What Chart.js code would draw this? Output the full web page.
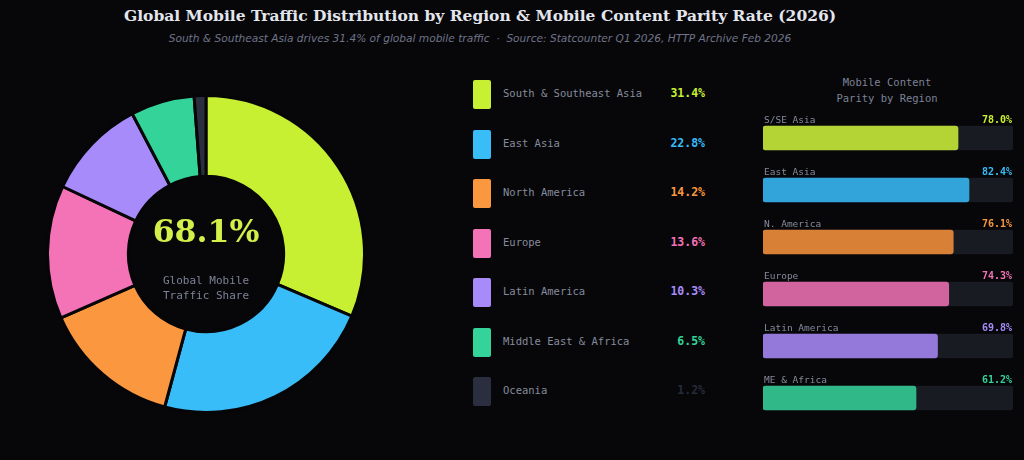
<!DOCTYPE html>
<html>
<head>
<meta charset="utf-8">
<script src="https://cdn.jsdelivr.net/npm/chart.js@4.4.1/dist/chart.umd.min.js"></script>
<style>
  html, body { margin: 0; padding: 0; background: #07070a; }
  #page { position: relative; width: 1024px; height: 460px; overflow: hidden; background: #07070a; }
  .title { position: absolute; left: 0; width: 960px; top: 6px; text-align: center;
    font: bold 15.5px "DejaVu Serif", serif; color: #e4e6ee; }
  .subtitle { position: absolute; left: 0; width: 960px; top: 32px; text-align: center;
    font: italic 10.6px "DejaVu Sans", sans-serif; color: #6f7488; }
  .box { position: absolute; }
  .center-big { position: absolute; left: 106px; width: 200px; top: 212px; text-align: center;
    font: bold 31.5px "DejaVu Serif", serif; color: #d2ef4a; }
  .center-small { position: absolute; left: 106px; width: 200px; top: 273px; text-align: center;
    font: 11px "DejaVu Sans Mono", monospace; color: #7d8296; line-height: 15px; }
  .legend-row { position: absolute; left: 473px; width: 232px; height: 29px; }
  .legend-row .sw { position: absolute; left: 0; top: 0; width: 18px; height: 29px; border-radius: 2px; }
  .legend-row .lb { position: absolute; left: 30px; top: 7px; font: 10.5px "DejaVu Sans Mono", monospace; color: #868b9c; }
  .legend-row .vl { position: absolute; right: 0; top: 6px; font: bold 11.5px "DejaVu Sans Mono", monospace; }
  .par-head { position: absolute; left: 787px; width: 200px; top: 74px; text-align: center;
    font: 10.5px "DejaVu Sans Mono", monospace; color: #7d8296; line-height: 16px; }
</style>
</head>
<body>
<div id="page">
  <div class="title">Global Mobile Traffic Distribution by Region &amp; Mobile Content Parity Rate (2026)</div>
  <div class="subtitle">South &amp; Southeast Asia drives 31.4% of global mobile traffic &nbsp;·&nbsp; Source: Statcounter Q1 2026, HTTP Archive Feb 2026</div>
  <div class="box" style="left:46px; top:94px; width:320px; height:320px;"><canvas id="donut"></canvas></div>
  <div class="center-big">68.1%</div>
  <div class="center-small">Global Mobile<br>Traffic Share</div>
  <div id="legend"></div>
  <div class="par-head">Mobile Content<br>Parity by Region</div>
  <div class="box" style="left:763px; top:112px; width:250px; height:312px;"><canvas id="parity"></canvas></div>
</div>
<script>
// 流量份额数据
const regions = ['South & Southeast Asia', 'East Asia', 'North America', 'Europe', 'Latin America', 'Middle East & Africa', 'Oceania'];
const trafficShare = [31.4, 22.8, 14.2, 13.6, 10.3, 6.5, 1.2];
const regionColors = ['#c8f032', '#38bdf8', '#fb983f', '#f472b6', '#a78bfa', '#34d399', '#2a2e3e'];
const valueColors = ['#c8f032', '#38bdf8', '#fb983f', '#f472b6', '#a78bfa', '#34d399', '#272b3a'];

// 内容一致率数据
const parityRegions = ['S/SE Asia', 'East Asia', 'N. America', 'Europe', 'Latin America', 'ME & Africa'];
const parityRates = [78.0, 82.4, 76.1, 74.3, 69.8, 61.2];
const parityColors = ['#b4d334', '#33a4da', '#d98037', '#d1649f', '#9479db', '#30b889'];
const parityTextColors = ['#c8f032', '#38bdf8', '#fb983f', '#f472b6', '#a78bfa', '#34d399'];

// 图例
const legendEl = document.getElementById('legend');
regions.forEach((name, i) => {
    const row = document.createElement('div');
    row.className = 'legend-row';
    row.style.top = (80 + i * 49.5) + 'px';
    row.innerHTML = '<div class="sw" style="background:' + regionColors[i] + '"></div>' +
        '<div class="lb">' + name.replace('&', '&amp;') + '</div>' +
        '<div class="vl" style="color:' + valueColors[i] + '">' + trafficShare[i].toFixed(1) + '%</div>';
    legendEl.appendChild(row);
});

// 环形图
new Chart(document.getElementById('donut'), {
    type: 'doughnut',
    data: {
        labels: regions,
        datasets: [{
            data: trafficShare,
            backgroundColor: regionColors,
            borderColor: '#060608',
            borderWidth: 3
        }]
    },
    options: {
        responsive: true,
        maintainAspectRatio: false,
        animation: false,
        cutout: '49%',
        plugins: { legend: { display: false }, tooltip: { enabled: false } }
    }
});

// 条形图上方的标签
const parityLabels = {
    id: 'parityLabels',
    afterDatasetsDraw(chart) {
        const ctx = chart.ctx;
        const meta = chart.getDatasetMeta(1);
        const area = chart.chartArea;
        ctx.save();
        ctx.textBaseline = 'alphabetic';
        meta.data.forEach((bar, i) => {
            const y = bar.y - 15;
            ctx.font = '9.5px "DejaVu Sans Mono", monospace';
            ctx.fillStyle = '#868b9c';
            ctx.textAlign = 'left';
            ctx.fillText(parityRegions[i], area.left + 1, y);
            ctx.font = 'bold 10px "DejaVu Sans Mono", monospace';
            ctx.fillStyle = parityTextColors[i];
            ctx.textAlign = 'right';
            ctx.fillText(parityRates[i].toFixed(1) + '%', area.right - 1, y);
        });
        ctx.restore();
    }
};

new Chart(document.getElementById('parity'), {
    type: 'bar',
    data: {
        labels: parityRegions,
        datasets: [
            {
                data: parityRegions.map(() => 100),
                backgroundColor: '#181b22',
                borderRadius: 3,
                borderSkipped: false,
                barThickness: 24,
                grouped: false,
                order: 2
            },
            {
                data: parityRates,
                backgroundColor: parityColors,
                borderRadius: 3,
                borderSkipped: false,
                barThickness: 24,
                grouped: false,
                order: 1
            }
        ]
    },
    options: {
        indexAxis: 'y',
        responsive: true,
        maintainAspectRatio: false,
        animation: false,
        layout: { padding: 0 },
        scales: {
            x: { display: false, min: 0, max: 100 },
            y: { display: false }
        },
        plugins: { legend: { display: false }, tooltip: { enabled: false } }
    },
    plugins: [parityLabels]
});
</script>
</body>
</html>
